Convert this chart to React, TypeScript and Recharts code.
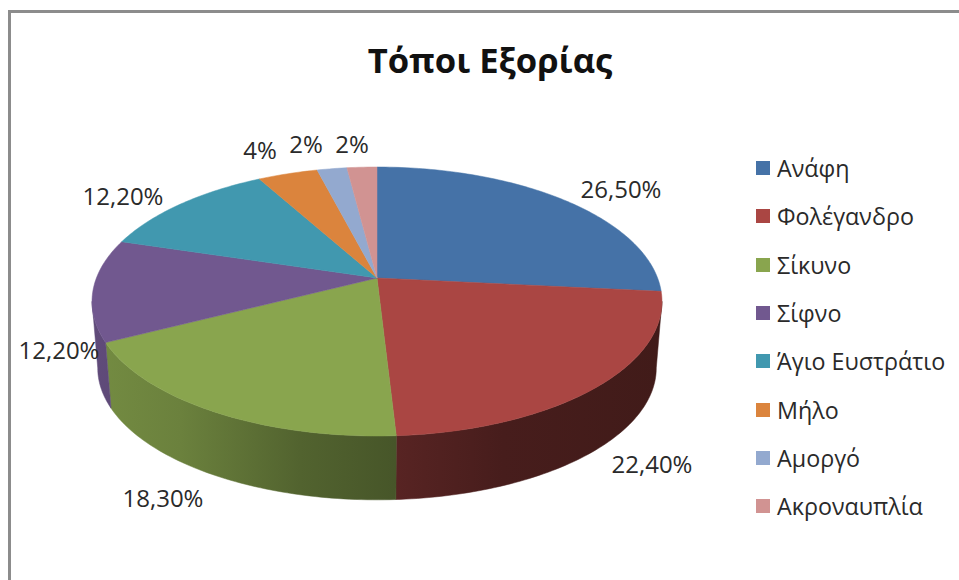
import React from "react";
import { Cell, Legend, Pie, PieChart } from "recharts";

const places = ["Ανάφη", "Φολέγανδρο", "Σίκυνο", "Σίφνο", "Άγιο Ευστράτιο", "Μήλο", "Αμοργό", "Ακροναυπλία"];
const shares = [26.5, 22.4, 18.3, 12.2, 12.2, 4, 2, 2];
const colors = ["#4572A7", "#AA4643", "#89A54E", "#71588F", "#4198AF", "#DB843D", "#93A9CF", "#D19392"];

// hand placed, the original has them moved around
const labelSpots = [
  [621, 188],
  [652, 463],
  [163, 497],
  [59, 349],
  [123, 195],
  [260, 149],
  [306, 143],
  [352, 143],
];

const data = places.map((name, i) => ({ name, value: shares[i] }));

const FONT = "'Open Sans', sans-serif";
const TILT = 0.4647; // flattening of the disc
const PERSP = 0.1747; // front of the disc is nearer
const DEPTH = 67;
const BOTTOM_SCALE = 0.98;
// wall brightness from left to right
const wallShade = [
  [0, 0.85],
  [0.155, 0.78],
  [0.365, 0.6],
  [0.53, 0.52],
  [0.72, 0.42],
  [1, 0.38],
];

const rad = (d: number) => (d * Math.PI) / 180;

const project = (clock: number, r: number, cx: number, cy: number) => {
  const u = Math.sin(rad(clock));
  const v = -Math.cos(rad(clock));
  const w = 1 - PERSP * v;
  return [cx + (r * u) / w, cy + (r * TILT * v) / w];
};

const darker = (hex: string, f: number) => {
  const n = parseInt(hex.slice(1), 16);
  const c = [(n >> 16) & 255, (n >> 8) & 255, n & 255].map((x) => Math.round(x * f));
  return `rgb(${c.join(",")})`;
};

const sweep = (from: number, to: number) => {
  const out: number[] = [];
  for (let a = from; a < to; a += 1) out.push(a);
  out.push(to);
  return out;
};

const toPath = (pts: number[][]) => "M" + pts.map((p) => `${p[0].toFixed(2)},${p[1].toFixed(2)}`).join("L") + "Z";

const Slice3D = (props: any) => {
  const { cx, cy, outerRadius, startAngle, endAngle, fill, index } = props;
  const from = 90 - startAngle;
  const to = 90 - endAngle;
  const rim = sweep(from, to).map((a) => project(a, outerRadius, cx, cy));

  // only the part of the rim facing the viewer gets a wall
  const wallFrom = Math.max(from, 100);
  const wallTo = Math.min(to, 260);
  let wall = null;
  if (wallTo > wallFrom) {
    const upper = sweep(wallFrom, wallTo).map((a) => project(a, outerRadius, cx, cy));
    const lower = upper
      .map((p) => [cx + (p[0] - cx) * BOTTOM_SCALE, cy + (p[1] - cy) * BOTTOM_SCALE + DEPTH])
      .reverse();
    const id = `wall-${index}`;
    wall = (
      <>
        <defs>
          <linearGradient id={id} gradientUnits="userSpaceOnUse" x1={cx - 285} x2={cx + 285} y1={0} y2={0}>
            {wallShade.map(([o, f]) => (
              <stop key={o} offset={o} stopColor={darker(fill, f)} />
            ))}
          </linearGradient>
        </defs>
        <path d={toPath([...upper, ...lower])} fill={`url(#${id})`} stroke={`url(#${id})`} strokeWidth={0.5} />
      </>
    );
  }

  return (
    <g>
      {wall}
      <path d={toPath([[cx, cy], ...rim])} fill={fill} stroke={fill} strokeWidth={0.5} />
    </g>
  );
};

const shareLabel = (v: number) => (Number.isInteger(v) ? `${v}%` : `${v.toFixed(2).replace(".", ",")}%`);

const renderLabel = ({ index, value }: any) => (
  <text
    x={labelSpots[index][0]}
    y={labelSpots[index][1]}
    textAnchor="middle"
    dominantBaseline="central"
    fontFamily={FONT}
    fontSize={24}
    fill="#2a2a2a"
  >
    {shareLabel(value)}
  </text>
);

const renderLegend = ({ payload }: any) => (
  <div style={{ fontFamily: FONT, fontSize: 23.3, color: "#2a2a2a" }}>
    {(payload || []).map((entry: any) => (
      <div key={entry.value} style={{ display: "flex", alignItems: "center", height: 48.3, whiteSpace: "nowrap" }}>
        <span style={{ width: 14, height: 14, background: entry.color, marginRight: 7, flex: "none" }} />
        {entry.value}
      </div>
    ))}
  </div>
);

export default function App() {
  return (
    <div style={{ position: "absolute", left: 0, top: 0, width: 959, height: 580, background: "#fff", overflow: "hidden" }}>
      <div
        style={{
          position: "absolute",
          left: 8,
          top: 10,
          width: 960,
          height: 580,
          borderLeft: "3px solid #8c8c8c",
          borderTop: "3px solid #8c8c8c",
        }}
      />
      <PieChart width={959} height={580} margin={{ top: 0, right: 0, bottom: 0, left: 0 }} style={{ position: "absolute" }}>
        <text x={490} y={59} textAnchor="middle" dominantBaseline="central" fontFamily={FONT} fontSize={34.6} fontWeight={700} fill="#111">
          Τόποι Εξορίας
        </text>
        <Pie
          data={data}
          dataKey="value"
          nameKey="name"
          cx={377}
          cy={278}
          outerRadius={280.6}
          startAngle={90}
          endAngle={-270}
          stroke="none"
          shape={Slice3D}
          label={renderLabel}
          labelLine={false}
          isAnimationActive={false}
        >
          {places.map((p, i) => (
            <Cell key={p} fill={colors[i]} />
          ))}
        </Pie>
        <Legend
          content={renderLegend}
          itemSorter={null}
          layout="vertical"
          align="right"
          verticalAlign="top"
          wrapperStyle={{ left: 756, top: 144, right: "auto", bottom: "auto", width: 200 }}
        />
      </PieChart>
    </div>
  );
}
